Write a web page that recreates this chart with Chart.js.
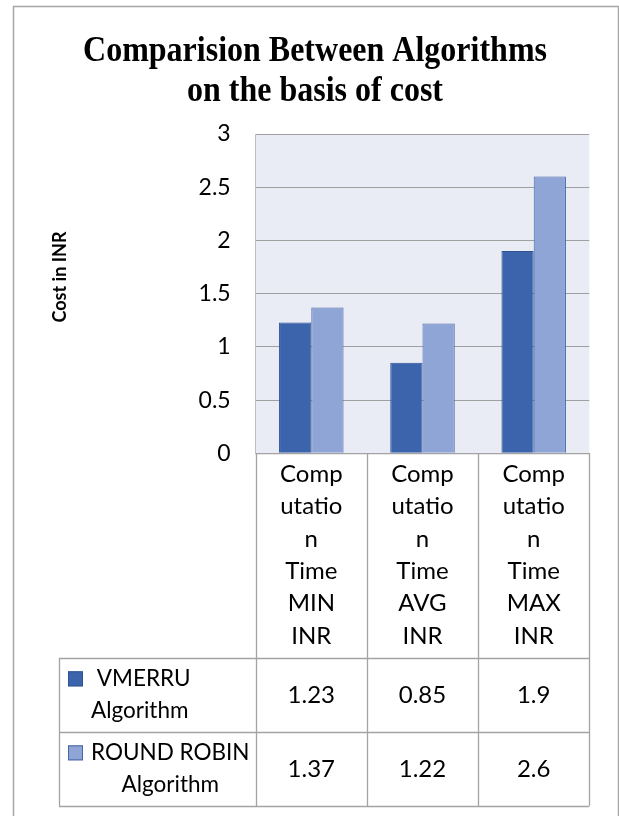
<!DOCTYPE html>
<html>
<head>
<meta charset="utf-8">
<script src="https://cdn.jsdelivr.net/npm/chart.js@4.4.1/dist/chart.umd.min.js"></script>
<style>
html,body{margin:0;padding:0;background:#fff;}
#wrap{position:relative;width:619px;height:816px;}
</style>
</head>
<body>
<div id="wrap"><canvas id="c" width="619" height="816"></canvas></div>
<script>
// ---- data ----
const titleLines = ["Comparision Between Algorithms", "on the basis of cost"];
const categories = ["Computation Time MIN INR", "Computation Time AVG INR", "Computation Time MAX INR"];
const categoryLines = [
  ["Comp", "utatio", "n", "Time", "MIN", "INR"],
  ["Comp", "utatio", "n", "Time", "AVG", "INR"],
  ["Comp", "utatio", "n", "Time", "MAX", "INR"]
];
const seriesNames = ["VMERRU Algorithm", "ROUND ROBIN Algorithm"];
const seriesNameLines = [["VMERRU", "Algorithm"], ["ROUND ROBIN", "Algorithm"]];
const vmerruValues = [1.23, 0.85, 1.9];
const roundRobinValues = [1.37, 1.22, 2.6];
const yTickValues = [0, 0.5, 1, 1.5, 2, 2.5, 3];
const yTickLabels = ["0", "0.5", "1", "1.5", "2", "2.5", "3"];
const yAxisTitle = "Cost in INR";

// ---- styles ----
const darkFill = '#3C64AD', darkBorder = '#2E5294';
const lightFill = '#8FA5D5', lightBorder = '#4466AA';
const lineGray = '#A3A3A3';
const bodyFont = 'Lato, "Liberation Sans", sans-serif';

const tablePlugin = {
  id: 'tablePlugin',
  beforeDraw(chart) {
    const {ctx, chartArea: a} = chart;
    ctx.save();
    ctx.fillStyle = '#ffffff';
    ctx.fillRect(0, 0, chart.width, chart.height);
    ctx.strokeStyle = '#A6A6A6';
    ctx.lineWidth = 1.5;
    ctx.strokeRect(13.5, 6.5, 605, 840);
    ctx.fillStyle = '#E9EBF5';
    ctx.fillRect(a.left, a.top, a.right - a.left, a.bottom - a.top);
    ctx.restore();
  },
  afterDraw(chart) {
    const {ctx, chartArea: a} = chart;
    const xs = chart.scales.x;
    const n = categories.length;
    const colW = (a.right - a.left) / n;
    ctx.save();
    // chart title (slightly tall serif, as in the reference)
    ctx.fillStyle = '#000';
    ctx.textAlign = 'center';
    ctx.textBaseline = 'alphabetic';
    ctx.font = 'bold 32px "Liberation Serif", "Times New Roman", serif';
    const titleBase = [61, 101];
    const sy = 1.1;
    titleLines.forEach((t, i) => {
      ctx.save();
      ctx.translate(315, titleBase[i]);
      ctx.scale(1, sy);
      ctx.fillText(t, 0, 0);
      ctx.restore();
    });

    // y axis title
    ctx.save();
    ctx.translate(60, 277);
    ctx.rotate(-Math.PI / 2);
    ctx.font = 'bold 18px ' + bodyFont;
    ctx.textAlign = 'center';
    ctx.textBaseline = 'middle';
    ctx.fillText(yAxisTitle, 0, 0);
    ctx.restore();

    // table geometry
    const legendLeft = 59;
    const headerBottom = a.bottom + 204.4;
    const rowH = [74.3, 73.7];
    const row1Bottom = headerBottom + rowH[0];
    const row2Bottom = row1Bottom + rowH[1];
    ctx.strokeStyle = lineGray;
    ctx.lineWidth = 1.3;
    ctx.beginPath();
    for (let i = 0; i <= n; i++) {
      const x = Math.round(a.left + i * colW) + 0.5;
      ctx.moveTo(x, a.bottom); ctx.lineTo(x, row2Bottom);
    }
    ctx.moveTo(legendLeft + 0.5, headerBottom); ctx.lineTo(legendLeft + 0.5, row2Bottom);
    [headerBottom, row1Bottom, row2Bottom].forEach(y => {
      const yy = Math.round(y) + 0.5;
      ctx.moveTo(legendLeft, yy); ctx.lineTo(a.right, yy);
    });
    ctx.stroke();

    // header text
    ctx.fillStyle = '#000';
    ctx.font = '24px ' + bodyFont;
    ctx.textBaseline = 'middle';
    ctx.textAlign = 'center';
    categoryLines.forEach((lines, i) => {
      const cx = xs.getPixelForValue(i);
      lines.forEach((l, k) => ctx.fillText(l, cx, a.bottom + 21 + k * 32.3));
    });
    // values
    const seriesVals = [vmerruValues, roundRobinValues];
    const rowTops = [headerBottom, row1Bottom];
    seriesVals.forEach((vals, r) => {
      const cy = rowTops[r] + rowH[r] / 2;
      vals.forEach((v, i) => ctx.fillText(String(v), xs.getPixelForValue(i), cy));
    });
    // legend cells
    const fills = [darkFill, lightFill];
    const borders = [darkBorder, lightBorder];
    ctx.font = '22.5px ' + bodyFont;
    seriesNameLines.forEach((lines, r) => {
      const cy = rowTops[r] + rowH[r] / 2;
      const y1 = cy - 16, y2 = cy + 16;
      ctx.fillStyle = fills[r];
      ctx.fillRect(68, y1 - 7.5, 15, 15);
      ctx.strokeStyle = borders[r];
      ctx.lineWidth = 1;
      ctx.strokeRect(68.5, y1 - 7, 14, 14);
      ctx.fillStyle = '#000';
      const blockLeft = 91;
      const w = Math.max(...lines.map(l => ctx.measureText(l).width));
      const bx = blockLeft + w / 2;
      ctx.fillText(lines[0], bx + (r === 0 ? 4 : 0), y1);
      ctx.fillText(lines[1], bx, y2);
    });
    ctx.restore();
  }
};

new Chart(document.getElementById('c'), {
  type: 'bar',
  data: {
    labels: categories,
    datasets: [
      { label: seriesNames[0], data: vmerruValues, backgroundColor: darkFill, borderColor: darkBorder, borderWidth: 1 },
      { label: seriesNames[1], data: roundRobinValues, backgroundColor: lightFill, borderColor: lightBorder, borderWidth: 1 }
    ]
  },
  options: {
    responsive: false,
    animation: false,
    devicePixelRatio: 1,
    datasets: { bar: { barPercentage: 1.0, categoryPercentage: 0.58 } },
    layout: { padding: { top: 134, bottom: 362.7, left: 0, right: 29.7 } },
    plugins: {
      legend: { display: false },
      title: { display: false },
      tooltip: { enabled: false }
    },
    scales: {
      x: {
        grid: { display: false, drawTicks: false },
        ticks: { display: false },
        border: { display: true, color: lineGray, width: 1.3 },
        afterFit: s => { s.height = 0; }
      },
      y: {
        min: 0, max: 3,
        afterFit: s => { s.width = 255.7; },
        afterBuildTicks: s => { s.ticks = yTickValues.map(v => ({ value: v })); },
        grid: { color: '#A0A0A0', lineWidth: 1, drawTicks: false },
        border: { display: true, color: '#BFBFBF', width: 1 },
        ticks: {
          padding: 25, color: '#000', font: { family: bodyFont, size: 23 },
          callback: (v, i) => yTickLabels[yTickValues.indexOf(v)]
        }
      }
    }
  },
  plugins: [tablePlugin]
});
</script>
</body>
</html>
